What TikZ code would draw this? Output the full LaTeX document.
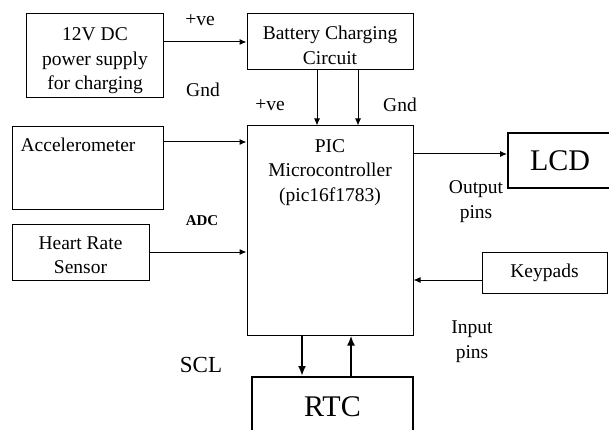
\documentclass[tikz,border=0pt]{standalone}
\usepackage{fontspec}
\setmainfont{Liberation Serif}
\usetikzlibrary{arrows.meta}

\tikzset{
    blk/.style={draw, line width=1pt, inner sep=0pt, font=\fontsize{19.5}{24.5}\selectfont, align=center},
    blkbold/.style={draw, line width=2pt, inner sep=0pt, font=\fontsize{30}{32}\selectfont},
    txt/.style={inner sep=0pt, font=\fontsize{19.5}{24.5}\selectfont, align=center},
    arr/.style={-{Latex[length=7pt,width=6pt]}, line width=1pt},
    arrbold/.style={-{Latex[length=10pt,width=8pt]}, line width=2.2pt}
}

\begin{document}
\begin{tikzpicture}[x=1pt, y=-1pt]
    \useasboundingbox (0,0) rectangle (609,430);
    \node[blk, minimum width=137pt, minimum height=84pt] (psu) at (94.5,56) {};
    \node[txt] (psutxt) at (95,61) {12V DC\\power supply\\for charging};
    \node[blk, minimum width=166pt, minimum height=56pt] (bcc) at (330,42) {};
    \node[txt] (bcctxt) at (330,45.5) {Battery Charging\\Circuit};
    \node[blk, minimum width=151pt, minimum height=82pt] (acc) at (87.5,168) {};
    \node[txt] (acctxt) at (78,145) {Accelerometer};
    \node[blk, minimum width=137pt, minimum height=56pt] (hrs) at (80.5,252) {};
    \node[txt] (hrstxt) at (80.5,255) {Heart Rate\\Sensor};
    \node[blk, minimum width=166pt, minimum height=209pt] (pic) at (330,230.5) {};
    \node[txt] (pictxt) at (330,172.5) {PIC\\Microcontroller\\(pic16f1783)};
    \node[blkbold, minimum width=104pt, minimum height=55pt] (lcd) at (560,160.5) {LCD};
    \node[blk, minimum width=125pt, minimum height=41pt] (kp) at (544.5,272.5) {Keypads};
    \node[blkbold, minimum width=161pt, minimum height=60pt] (rtc) at (332.5,407) {RTC};

    \draw[arr] (psu.east |- 0,42) -- (bcc.west |- 0,42);
    \draw[arr] (acc.east |- 0,142) -- (pic.west |- 0,142); \draw[arr] (hrs.east |- 0,252) -- (pic.west |- 0,252);
    \draw[arr] (bcc.south -| 317,0) -- (pic.north -| 317,0); \draw[arr] (bcc.south -| 358,0) -- (pic.north -| 358,0);
    \draw[arr] (pic.east |- 0,154) -- (lcd.west |- 0,154); \draw[arr] (kp.west |- 0,280) -- (pic.east |- 0,280);
    \draw[arrbold] (pic.south -| 302,0) -- (rtc.north -| 302,0); \draw[arrbold] (rtc.north -| 351,0) -- (pic.south -| 351,0);

    \node[txt] (ve1) at (200,20) {+ve}; \node[txt] (gnd1) at (203,90) {Gnd};
    \node[txt] (ve2) at (270,105) {+ve}; \node[txt] (gnd2) at (400,105) {Gnd};
    \node[txt, font=\fontsize{15}{17}\selectfont\bfseries] (adc) at (202,221) {ADC};
    \node[txt] (outp) at (476,201.5) {Output\\pins}; \node[txt] (inp) at (472,341.5) {Input\\pins};
    \node[txt, font=\fontsize{23}{25}\selectfont] (scl) at (201,365) {SCL};
\end{tikzpicture}
\end{document}
